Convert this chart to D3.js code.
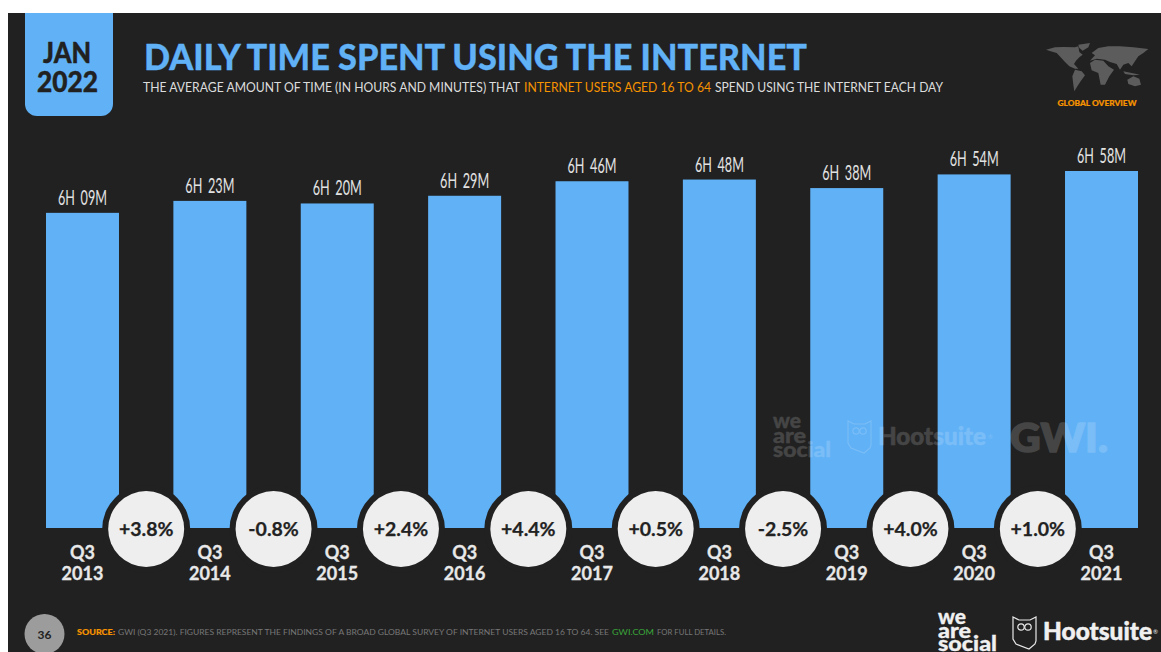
<!DOCTYPE html>
<html><head><meta charset="utf-8">
<script src="https://cdn.jsdelivr.net/npm/d3@7/dist/d3.min.js"></script>
<style>html,body{margin:0;padding:0;background:#fff;overflow:hidden}svg{display:block}text{font-family:Lato,sans-serif}</style>
</head><body><svg id="c" width="1161" height="652"></svg>
<script>
const quarters=["Q3","Q3","Q3","Q3","Q3","Q3","Q3","Q3","Q3"];
const years=["2013","2014","2015","2016","2017","2018","2019","2020","2021"];
const minutesPerDay=[369,383,380,389,406,408,398,414,418];
const changes=["+3.8%","-0.8%","+2.4%","+4.4%","+0.5%","-2.5%","+4.0%","+1.0%"];

const BLUE="#60b1f6",DARK="#212121",ORANGE="#f59300";
const svg=d3.select("#c");
svg.append("rect").attr("x",8).attr("y",13).attr("width",1153).attr("height",639).attr("fill",DARK);
function txt(p,s,x,y,size,fill,weight,anchor,len,bold){
  const t=p.append("text").attr("x",x).attr("y",y).attr("font-size",size).attr("fill",fill)
   .attr("font-weight",weight||400).attr("text-anchor",anchor||"start").text(s);
  if(len)t.attr("textLength",len).attr("lengthAdjust","spacingAndGlyphs");
  if(bold)t.attr("stroke",fill).attr("stroke-width",bold).attr("stroke-linejoin","round");
  return t;
}
function stack(p,x0,ys,size,fill,len,bold){
  const t=p.append("text").attr("font-size",size).attr("font-weight",900).attr("fill",fill)
    .attr("stroke",fill).attr("stroke-width",bold);
  ["we","are","social"].forEach((s,i)=>t.append("tspan").attr("x",x0).attr("y",ys[i]).text(s)
    .attr("textLength",len[i]).attr("lengthAdjust","spacingAndGlyphs"));
}
// header
svg.append("path").attr("d","M25,13H113V104a12,12 0 0 1 -12,12H37a12,12 0 0 1 -12,-12Z").attr("fill",BLUE);
txt(svg,"JAN",67,63,29,DARK,900,"middle",48,0.4);
txt(svg,"2022",67.5,92,29,DARK,900,"middle",61,0.4);
txt(svg,"DAILY TIME SPENT USING THE INTERNET",144,70,36,BLUE,900,"start",663,0.3);
const SUB="#dcdcdc";
txt(svg,"THE AVERAGE AMOUNT OF TIME (IN HOURS AND MINUTES) THAT",143,92,12.5,SUB,400,"start",377);
txt(svg,"INTERNET USERS AGED 16 TO 64",524,92,12.5,ORANGE,400,"start",187);
txt(svg,"SPEND USING THE INTERNET EACH DAY",715,92,12.5,SUB,400,"start",228);

// world map decoration
const map=svg.append("g").attr("fill","#5c5c5c").attr("transform","translate(1040,38) scale(0.3333)");
["M18,35 L45,28 L70,27 L105,28 L115,25 L118,42 L128,50 L118,58 L108,68 L102,78 L115,92 L105,92 L88,85 L75,72 L62,58 L50,45 L32,40Z",
 "M115,20 L150,15 L145,28 L128,38 L118,30Z",
 "M105,95 L125,100 L135,112 L122,130 L112,145 L103,160 L100,140 L97,115Z",
 "M150,75 L165,65 L190,68 L205,85 L222,95 L208,115 L195,140 L182,140 L175,105 L155,97Z",
 "M155,45 L175,30 L205,25 L240,25 L280,28 L325,33 L310,45 L295,55 L285,70 L275,85 L265,75 L250,80 L240,95 L230,78 L210,72 L195,65 L170,62 L150,68 L165,52Z",
 "M262,125 L280,115 L298,122 L303,140 L285,145 L265,138Z",
 "M250,100 L275,105 L300,110 L280,112 L255,108Z"].forEach(d=>map.append("path").attr("d",d));
txt(svg,"GLOBAL OVERVIEW",1097,106,8,ORANGE,900,"middle",79,0.2);

// chart
const x=d3.scaleBand().domain(years).range([46,1138]).paddingInner(0.427).paddingOuter(0);
const y=d3.scaleLinear().domain([0,418]).range([528,171]);
const fmt=m=>`${Math.floor(m/60)}H ${String(m%60).padStart(2,"0")}M`;
const data=years.map((yr,i)=>({yr,q:quarters[i],m:minutesPerDay[i]}));
const g=svg.append("g");
g.selectAll("rect").data(data).join("rect").attr("x",d=>x(d.yr)).attr("width",x.bandwidth())
  .attr("y",d=>y(d.m)).attr("height",d=>y(0)-y(d.m)).attr("fill",BLUE);
g.selectAll("text.v").data(data).join("text").attr("class","v")
  .attr("x",d=>x(d.yr)+x.bandwidth()/2).attr("y",d=>y(d.m)-8)
  .attr("text-anchor","middle").attr("fill","#e2e2e2").attr("font-size",21)
  .attr("textLength",49).attr("lengthAdjust","spacingAndGlyphs")
  .style("word-spacing","4px").text(d=>fmt(d.m));
[["q",559,d=>d.q],["yr",580,d=>d.yr]].forEach(([c,yy,f])=>{
 g.selectAll("text."+c).data(data).join("text").attr("class",c)
  .attr("x",d=>x(d.yr)+x.bandwidth()/2).attr("y",yy).attr("text-anchor","middle")
  .attr("fill","#e8e8e8").attr("stroke","#e8e8e8").attr("stroke-width",0.3)
  .attr("font-size",18).attr("font-weight",700).text(f);
});

// change bubbles sit midway between neighbouring bars
const mid=i=>(x(years[i])+x(years[i+1])+x.bandwidth())/2;
const b=svg.append("g").selectAll("g").data(changes).join("g").attr("transform",(d,i)=>`translate(${mid(i)},529)`);
b.append("circle").attr("r",44).attr("fill",DARK);
b.append("circle").attr("r",38).attr("fill","#eeeeee");
b.append("text").attr("y",7).attr("text-anchor","middle").attr("font-size",19.5).attr("font-weight",700)
  .attr("fill","#222").attr("stroke","#222").attr("stroke-width",0.25).text(d=>d);

// watermarks
function owl(p,x0,y0,col){
  const o=p.append("g").attr("transform",`translate(${x0},${y0})`).attr("fill","none").attr("stroke",col).attr("stroke-width",1.2);
  o.append("path").attr("d","M0,0 L6,3 H17 L23,0 V24 L22,27 L16,32 L3,27 L0,22Z");
  o.append("circle").attr("cx",8).attr("cy",10).attr("r",3.2);
  o.append("circle").attr("cx",15).attr("cy",10).attr("r",3.2);
}
const wm=svg.append("g").attr("opacity",0.16);
stack(wm,773,[428,443,457],20,"#fff",[28,33,58],0.3);
owl(wm,848,421,"#fff");
txt(wm,"Hootsuite",878,445,25,"#fff",900,"start",108,0.5);
txt(wm,"®",988,439,6,"#fff",400);
txt(wm,"GWI.",1010,452,40,"#fff",900,"start",98,1.5);

// footer
svg.append("circle").attr("cx",44.5).attr("cy",634).attr("r",20).attr("fill","#9c9c9c");
txt(svg,"36",44.5,638.5,12,"#222",700,"middle");
txt(svg,"SOURCE:",77,635,8,ORANGE,900,"start",38,0.15);
const FT="#777777";
txt(svg,"GWI (Q3 2021). FIGURES REPRESENT THE FINDINGS OF A BROAD GLOBAL SURVEY OF INTERNET USERS AGED 16 TO 64. SEE",118,635,8,FT,400,"start",491);
txt(svg,"GWI.COM",612,635,8,"#3aa63a",400,"start",42);
txt(svg,"FOR FULL DETAILS.",657,635,8,FT,400,"start",69);
stack(svg,938,[624,638,651],20,"#f0f0f0",[28,33,59],0.3);
owl(svg,1013,617,"#e8e8e8");
txt(svg,"Hootsuite",1043,640,25,"#f0f0f0",900,"start",109,0.5);
txt(svg,"®",1153,634,6,"#f0f0f0",400);
</script></body></html>
